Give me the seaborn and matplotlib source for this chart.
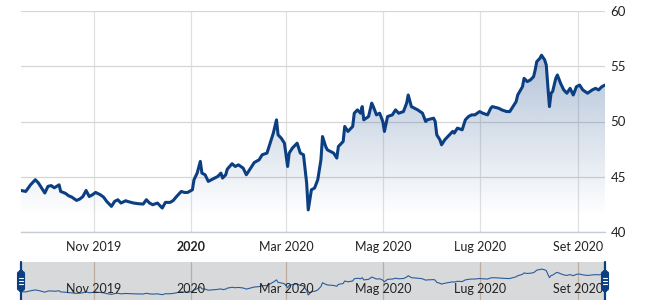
import numpy as np
import pandas as pd
import matplotlib
matplotlib.use("Agg")
import matplotlib.pyplot as plt
import matplotlib.dates as mdates
import matplotlib.transforms as mtransforms
from matplotlib.patches import FancyBboxPatch
from matplotlib.lines import Line2D
import seaborn as sns

# ---------------- data ----------------
dates = [
    "2019-09-16", "2019-09-19", "2019-09-22", "2019-09-25", "2019-09-27", "2019-09-29",
    "2019-10-01", "2019-10-03", "2019-10-05", "2019-10-07", "2019-10-10", "2019-10-11",
    "2019-10-14", "2019-10-16", "2019-10-18", "2019-10-21", "2019-10-23", "2019-10-25",
    "2019-10-27", "2019-10-29", "2019-10-31", "2019-11-02", "2019-11-05", "2019-11-07",
    "2019-11-09", "2019-11-12", "2019-11-14", "2019-11-16", "2019-11-18", "2019-11-21",
    "2019-11-22", "2019-11-26", "2019-11-29", "2019-12-02", "2019-12-04", "2019-12-06",
    "2019-12-08", "2019-12-11", "2019-12-14", "2019-12-16", "2019-12-19", "2019-12-21",
    "2019-12-23", "2019-12-26", "2019-12-28", "2019-12-30", "2020-01-02", "2020-01-03",
    "2020-01-05", "2020-01-07", "2020-01-08", "2020-01-10", "2020-01-12", "2020-01-14",
    "2020-01-16", "2020-01-18", "2020-01-20", "2020-01-21", "2020-01-23", "2020-01-24",
    "2020-01-27", "2020-01-29", "2020-01-31", "2020-02-03", "2020-02-05", "2020-02-07",
    "2020-02-10", "2020-02-13", "2020-02-15", "2020-02-18", "2020-02-20", "2020-02-22",
    "2020-02-24", "2020-02-25", "2020-02-27", "2020-02-29", "2020-03-02", "2020-03-03",
    "2020-03-05", "2020-03-07", "2020-03-08", "2020-03-10", "2020-03-12", "2020-03-14",
    "2020-03-15", "2020-03-17", "2020-03-19", "2020-03-21", "2020-03-23", "2020-03-24",
    "2020-03-26", "2020-03-27", "2020-03-31", "2020-04-02", "2020-04-03", "2020-04-06",
    "2020-04-07", "2020-04-09", "2020-04-12", "2020-04-13", "2020-04-15", "2020-04-17",
    "2020-04-18", "2020-04-19", "2020-04-22", "2020-04-24", "2020-04-25", "2020-04-27",
    "2020-04-29", "2020-05-01", "2020-05-02", "2020-05-04", "2020-05-07", "2020-05-09",
    "2020-05-11", "2020-05-14", "2020-05-16", "2020-05-17", "2020-05-19", "2020-05-21",
    "2020-05-23", "2020-05-26", "2020-05-28", "2020-05-29", "2020-06-02", "2020-06-03",
    "2020-06-04", "2020-06-06", "2020-06-07", "2020-06-09", "2020-06-11", "2020-06-14",
    "2020-06-15", "2020-06-17", "2020-06-20", "2020-06-22", "2020-06-24", "2020-06-26",
    "2020-06-28", "2020-07-01", "2020-07-03", "2020-07-06", "2020-07-08", "2020-07-09",
    "2020-07-13", "2020-07-15", "2020-07-18", "2020-07-20", "2020-07-22", "2020-07-24",
    "2020-07-25", "2020-07-28", "2020-07-29", "2020-07-31", "2020-08-02", "2020-08-04",
    "2020-08-05", "2020-08-06", "2020-08-08", "2020-08-09", "2020-08-11", "2020-08-12",
    "2020-08-13", "2020-08-14", "2020-08-15", "2020-08-16", "2020-08-18", "2020-08-19",
    "2020-08-21", "2020-08-23", "2020-08-25", "2020-08-27", "2020-08-29", "2020-08-31",
    "2020-09-02", "2020-09-04", "2020-09-07", "2020-09-10", "2020-09-12", "2020-09-14",
    "2020-09-16", "2020-09-18",
]
prices = [
    43.76, 43.67, 44.27, 44.73, 44.43, 43.98,
    43.53, 44.13, 44.20, 44.00, 44.27, 43.67,
    43.50, 43.28, 43.16, 42.86, 42.98, 43.21,
    43.76, 43.21, 43.37, 43.58, 43.37, 43.16,
    42.77, 42.32, 42.77, 42.92, 42.62, 42.83,
    42.77, 42.62, 42.56, 42.53, 42.92, 42.62,
    42.47, 42.62, 42.17, 42.68, 42.68, 42.86,
    43.21, 43.67, 43.58, 43.58, 43.82, 44.73,
    45.33, 46.39, 45.33, 45.18, 44.58, 44.73,
    44.88, 45.03, 45.33, 44.88, 45.18, 45.69,
    46.18, 45.93, 46.08, 45.78, 45.18, 45.63,
    46.29, 46.53, 46.99, 47.14, 48.04, 48.95,
    50.15, 48.79, 48.49, 48.04, 45.93, 47.14,
    47.59, 47.89, 48.04, 47.14, 46.99, 44.43,
    42.00, 43.82, 43.98, 44.73, 46.53, 48.64,
    47.74, 47.44, 47.14, 46.69, 47.74, 48.19,
    49.55, 49.10, 49.55, 50.75, 51.05, 50.75,
    51.35, 50.15, 50.45, 51.66, 51.35, 50.60,
    50.75, 50.00, 49.10, 50.45, 50.60, 51.05,
    50.75, 50.90, 51.66, 52.40, 51.35, 51.20,
    51.05, 50.75, 50.00, 50.15, 50.30, 50.00,
    48.79, 48.34, 47.89, 48.34, 48.64, 49.10,
    48.95, 49.40, 49.25, 50.15, 50.45, 50.60,
    50.60, 50.90, 50.75, 50.60, 51.20, 51.35,
    51.20, 51.05, 50.90, 50.90, 51.35, 51.80,
    52.40, 53.15, 53.91, 53.61, 53.76, 54.06,
    54.66, 55.42, 55.72, 56.00, 55.57, 55.10,
    53.15, 51.35, 52.56, 52.71, 53.91, 54.21,
    53.46, 52.86, 52.56, 53.00, 52.40, 53.15,
    53.30, 52.86, 52.56, 52.86, 53.00, 52.86,
    53.15, 53.30,
]
x_tick_dates = ["2019-11-01", "2020-01-01", "2020-03-01", "2020-05-01", "2020-07-01", "2020-09-01"]
x_tick_labels = ["Nov 2019", "2020", "Mar 2020", "Mag 2020", "Lug 2020", "Set 2020"]
y_ticks = [40, 45, 50, 55, 60]

# ---------------- style ----------------
sns.set_style("white")
plt.rcParams["font.family"] = ["Lato", "DejaVu Sans"]

LINE = "#0b3f82"
TEXT = "#222222"

df = pd.DataFrame({"date": pd.to_datetime(dates), "price": prices})
xnum = mdates.date2num(df["date"])
tick_pos = mdates.date2num(pd.to_datetime(x_tick_dates))

W, H = 650, 300
fig = plt.figure(figsize=(6.5, 3.0), dpi=100)
fig.patch.set_facecolor("white")

L, R = 21, 605
ax = fig.add_axes([L / W, 1 - 232 / H, (R - L) / W, (232 - 11) / H])
nav = fig.add_axes([L / W, 0, (R - L) / W, (300 - 262) / H])

# ---------------- main chart ----------------
poly = ax.fill_between(xnum, df["price"], 40, facecolor="none", edgecolor="none")
grad = np.linspace(0, 1, 256)[:, None]
vals = 40 + 20 * grad
alpha = np.clip(0.40 * (vals - 41.5) / 18.5, 0, 1)
rgba = np.zeros((256, 1, 4))
c = matplotlib.colors.to_rgb(LINE)
rgba[..., 0], rgba[..., 1], rgba[..., 2] = c
rgba[..., 3] = alpha
im = ax.imshow(rgba, extent=[xnum.min(), xnum.max(), 40, 60], origin="lower",
               aspect="auto", zorder=1, interpolation="bilinear")
im.set_clip_path(poly.get_paths()[0], transform=ax.transData)

sns.lineplot(data=df, x="date", y="price", ax=ax, color=LINE, linewidth=2.2, zorder=3)

ax.set_xlim(xnum.min(), xnum.max())
ax.set_ylim(40, 60)
ax.set_xlabel("")
ax.set_ylabel("")
ax.set_yticks(y_ticks)
ax.yaxis.tick_right()
ax.set_xticks(tick_pos)
ax.set_xticklabels(x_tick_labels)
for lab in ax.get_xticklabels():
    if lab.get_text() == "2020":
        lab.set_fontweight("bold")
ax.tick_params(axis="x", length=0, pad=6.5, labelsize=9, labelcolor=TEXT)
ax.tick_params(axis="y", length=0, pad=4, labelsize=9.5, labelcolor=TEXT)
ax.grid(True, axis="y", color="#d6d6d6", linewidth=0.9)
ax.grid(True, axis="x", color="#e0e0e0", linewidth=0.9)
ax.set_axisbelow(True)
for s in ["top", "left", "right"]:
    ax.spines[s].set_visible(False)
ax.spines["bottom"].set_color("#c5ccd4")
ax.spines["bottom"].set_linewidth(1.0)
ax.set_facecolor("none")

# ---------------- navigator ----------------
nav.set_facecolor("#d8d9db")
sns.lineplot(data=df, x="date", y="price", ax=nav, color="#2a5d9c", linewidth=0.8, zorder=3)
nav.set_xlim(xnum.min(), xnum.max())
nav.set_ylim(39.3, 59.8)
nav.set_xticks(tick_pos)
nav.set_xticklabels([])
nav.set_yticks([])
nav.set_xlabel("")
nav.set_ylabel("")
nav.tick_params(length=0)
nav.grid(True, axis="x", color="#bfae9c", linewidth=0.9)
for s in nav.spines.values():
    s.set_visible(False)
tr = mtransforms.blended_transform_factory(nav.transData, nav.transAxes)
for p, t in zip(tick_pos, x_tick_labels):
    nav.text(p, 0.29, t, transform=tr, ha="center", va="center", fontsize=9,
             color=TEXT, zorder=4)

# handles
for hx in (L, R):
    fig.add_artist(Line2D([hx / W, hx / W], [0, 1 - 262 / H], color=LINE,
                          linewidth=1.6, transform=fig.transFigure))
    hw, hh = 7, 20
    box = FancyBboxPatch(((hx - hw / 2) / W, (300 - 291) / H), hw / W, hh / H,
                         boxstyle="round,pad=0,rounding_size=0.008",
                         transform=fig.transFigure, facecolor=LINE,
                         edgecolor=LINE, linewidth=0.8)
    fig.add_artist(box)
    for dy in (-3, 0, 3):
        yy = 1 - (281 + dy) / H
        fig.add_artist(Line2D([(hx - 2) / W, (hx + 2) / W], [yy, yy], color="white",
                              linewidth=0.8, transform=fig.transFigure))

fig.savefig("out.png", dpi=100, facecolor="white")
